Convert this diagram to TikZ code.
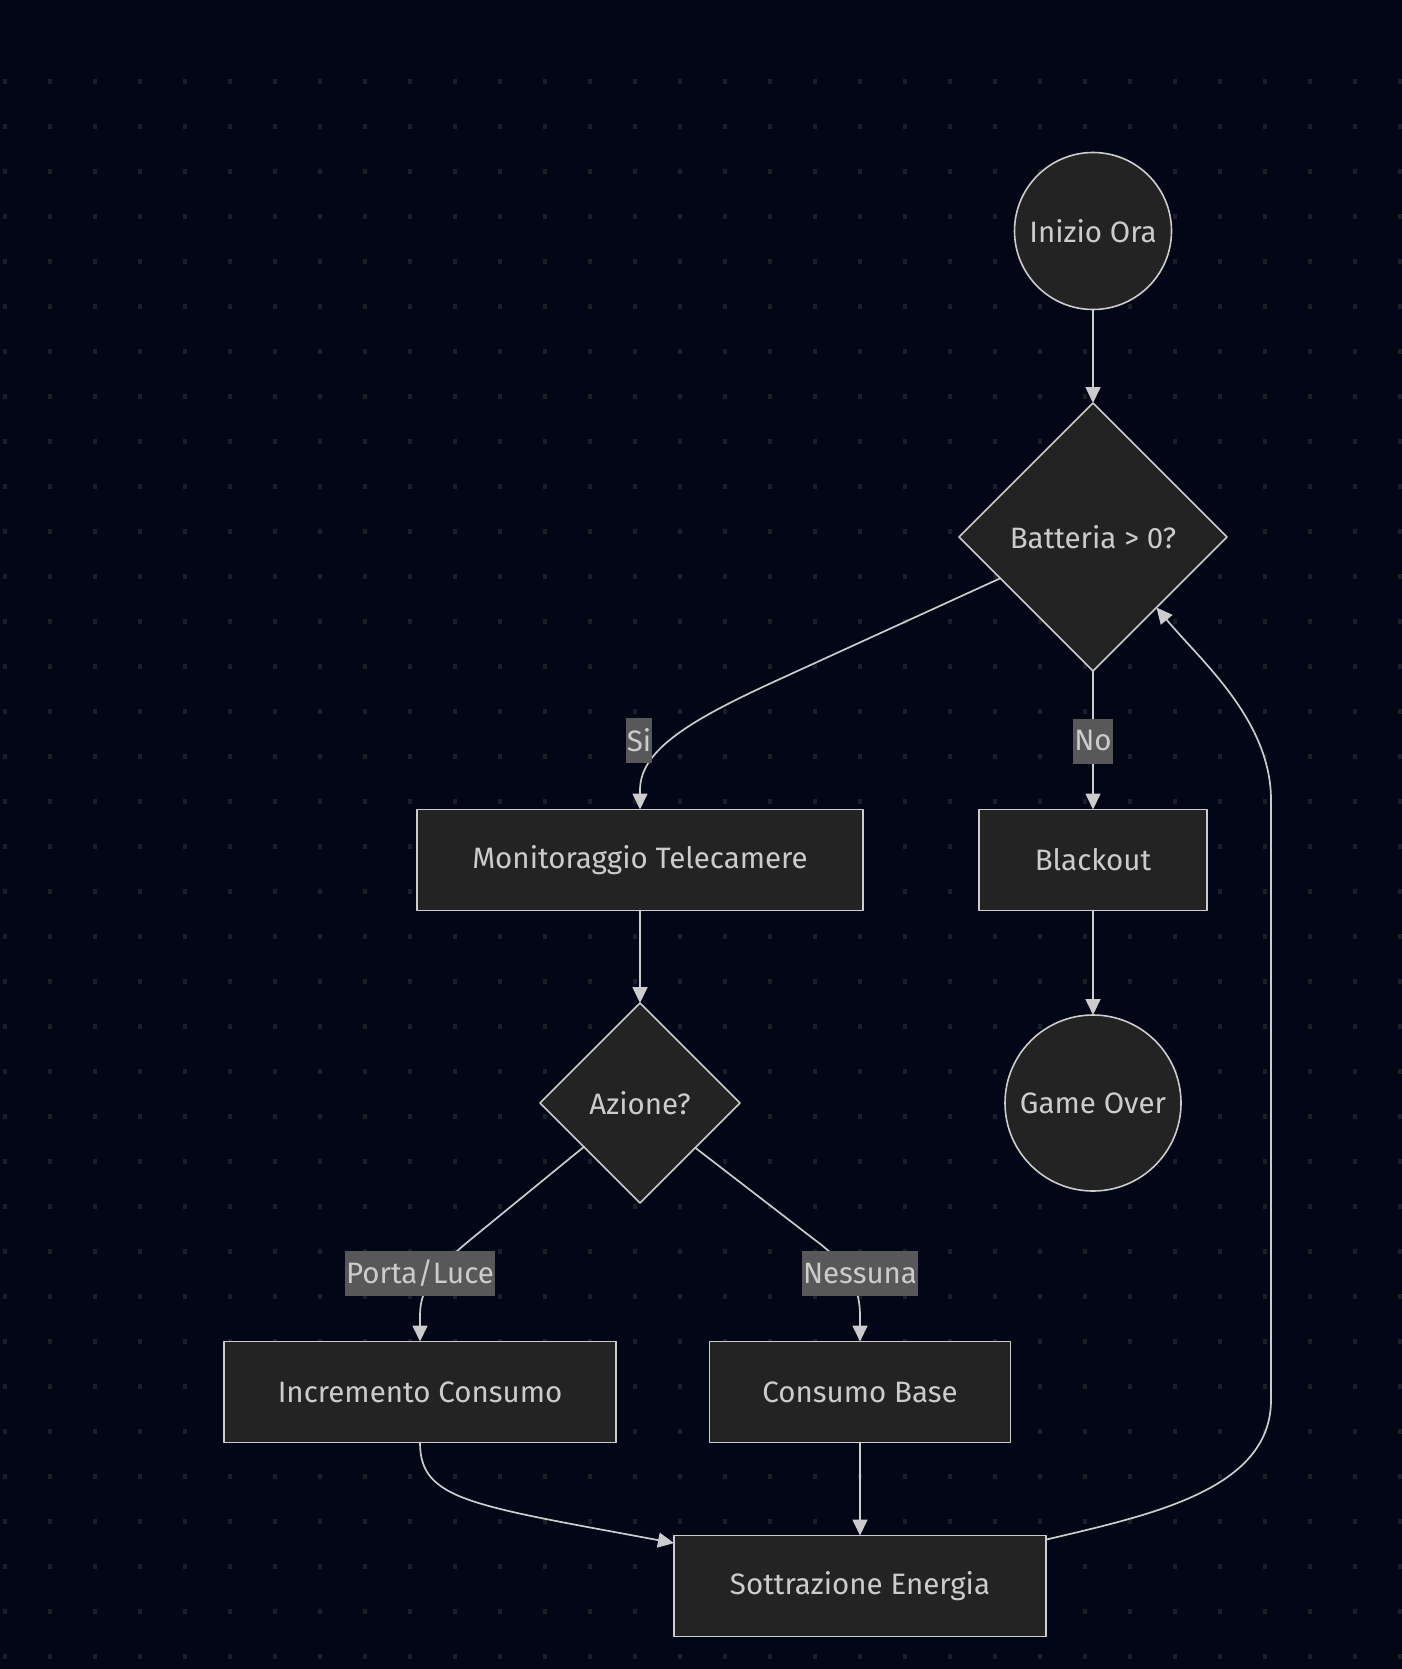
\documentclass[tikz,border=0pt]{standalone}
\usepackage{fontspec}
\setmainfont{Fira Sans}
\usepackage{tikz}
\usetikzlibrary{arrows.meta,shapes.geometric}
\definecolor{cccccc}{rgb}{0.8,0.8,0.8}
\definecolor{nodefill}{rgb}{0.133,0.137,0.133}
\definecolor{bgnavy}{rgb}{0.008,0.024,0.09}
\definecolor{dotgrey}{rgb}{0.11,0.118,0.15}
\definecolor{labgrey}{rgb}{0.345,0.345,0.345}

\begin{document}
\begin{tikzpicture}[line cap=round,line join=round,>={Triangle[length=16pt,width=15pt]},x=1pt,y=-1pt,
  font=\fontsize{29.5}{35}\selectfont,
  every node/.style={text=cccccc},
  box/.style={draw=cccccc,fill=nodefill,line width=1.6pt,minimum height=101pt,outer sep=0pt},
  dec/.style={draw=cccccc,fill=nodefill,line width=1.6pt,diamond,aspect=1,inner sep=0pt,outer sep=0pt},
  term/.style={draw=cccccc,fill=nodefill,line width=1.6pt,circle,inner sep=0pt,outer sep=0pt},
  lab/.style={fill=labgrey,inner xsep=1pt,inner ysep=0pt,minimum height=45pt},
  link/.style={draw=cccccc,line width=1.7pt,->}]
\useasboundingbox (0,0) rectangle (1401,1669);
\fill [bgnavy] (-3,-3) rectangle (1404,1672);
\foreach \i in {0,...,31}
  \foreach \j in {0,...,35}
    \fill [dotgrey] (3+45*\i,79+45*\j) rectangle ++(4,5);
\node [term,minimum size=157pt] (inizio) at (1093,231) {Inizio Ora};
\node [dec,minimum width=268pt,minimum height=268pt] (batt) at (1093,537) {Batteria > 0?};
\node [box,minimum width=446pt] (monit) at (640,860) {Monitoraggio Telecamere};
\node [box,minimum width=228pt] (black) at (1093,860) {Blackout};
\node [dec,minimum width=200pt,minimum height=200pt] (azione) at (640,1103) {Azione?};
\node [term,minimum size=176pt] (gover) at (1093,1103) {Game Over};
\node [box,minimum width=392pt] (incr) at (420,1392) {Incremento Consumo};
\node [box,minimum width=301pt] (cbase) at (860,1392) {Consumo Base};
\node [box,minimum width=372pt] (sottr) at (860,1586) {Sottrazione Energia};
\draw [link] (inizio) -- (batt);
\draw [link] (batt.204) -- (780,679) .. controls (690,720) and (640,750) .. (640,790) -- (monit.north);
\draw [link] (batt) -- (black);
\draw [link] (monit) -- (azione);
\draw [link] (black) -- (gover);
\draw [link] (azione.218) -- (470,1240) .. controls (440,1265) and (420,1285) .. (420,1315) -- (incr.north);
\draw [link] (azione.321) -- (815,1240) .. controls (845,1262) and (860,1285) .. (860,1315) -- (cbase.north);
\draw [link] (incr.south) .. controls (420,1500) and (470,1505) .. (sottr.167);
\draw [link] (cbase) -- (sottr);
\draw [link] (sottr.14) .. controls (1150,1515) and (1271,1490) .. (1271,1400) -- (1271,800) .. controls (1271,720) and (1200,660) .. (batt.312);
\node [lab] (lsi) at (639,740) {Si};
\node [lab] (lno) at (1093,741) {No};
\node [lab] (lporta) at (420,1273) {Porta/Luce};
\node [lab] (lness) at (860,1273) {Nessuna};
\end{tikzpicture}
\end{document}
